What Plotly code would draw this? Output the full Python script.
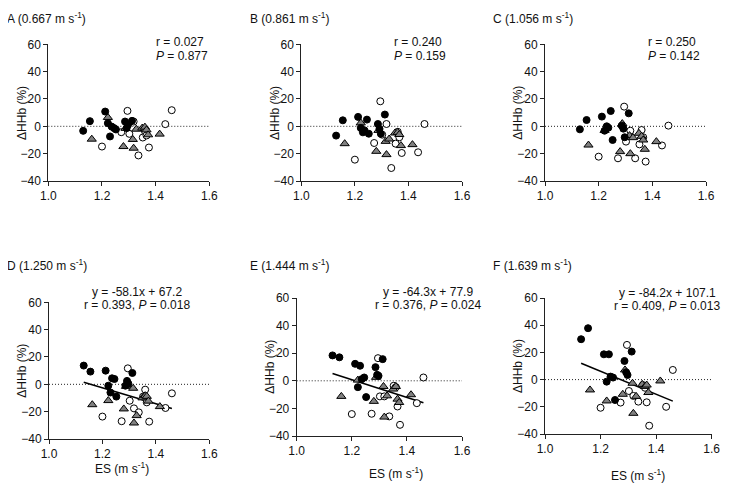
import plotly.graph_objects as go

# ---------------- data ----------------
panel_letters = ["A", "B", "C", "D", "E", "F"]
panel_speeds = ["0.667", "0.861", "1.056", "1.250", "1.444", "1.639"]

# ES (m s-1) of each subject, per group (same in every panel)
filled_x = [1.130, 1.155, 1.212, 1.222, 1.230, 1.236, 1.245, 1.252, 1.286, 1.292, 1.297, 1.312]
tri_x = [1.162, 1.222, 1.280, 1.288, 1.315, 1.318, 1.328, 1.350, 1.360, 1.366, 1.372, 1.415]
open_x = [1.200, 1.272, 1.295, 1.302, 1.318, 1.336, 1.352, 1.360, 1.366, 1.375, 1.436, 1.460]

# ΔHHb (%) per panel
filled_y = {
    "A": [-3.3, 3.8, 10.8, 2.3, -7.4, -0.2, -1.3, -2.3, 3.5, -1.3, 1.0, 4.0],
    "B": [-6.8, 4.4, 6.9, -1.2, -4.4, -3.0, 4.9, -5.4, 1.7, -1.9, -5.5, 8.6],
    "C": [-2.2, 4.6, 7.1, -3.2, 0.0, -1.0, 11.2, -10.0, 0.5, -1.7, -8.0, 9.5],
    "D": [13.7, 9.3, 10.0, -1.0, -6.0, 4.4, 3.9, -9.0, -1.0, 2.5, 0.5, 8.3],
    "E": [18.4, 17.0, 12.3, -4.6, 10.9, 1.2, 2.4, -11.8, 9.9, 4.3, 3.6, 15.7],
    "F": [29.7, 37.8, 18.6, -1.5, 18.6, 2.2, 1.5, -15.0, 13.7, 5.4, 3.4, 20.6],
}
tri_y = {
    "A": [-9.4, 6.5, -14.8, -1.5, -9.6, -16.0, -2.1, -1.3, -0.6, -2.6, -6.2, -5.7],
    "B": [-12.7, 2.5, -18.3, -3.0, -11.0, -20.7, -9.3, -4.9, -4.4, -6.0, -14.1, -13.4],
    "C": [-13.7, -3.0, -18.5, 2.0, -6.8, -20.0, -8.3, -5.1, -7.3, -10.0, -16.8, -11.2],
    "D": [-14.9, -11.9, -18.0, -1.5, -2.9, -28.3, -22.9, -9.9, -8.3, -8.8, -12.3, -16.3],
    "E": [-11.3, 0.5, -14.9, 2.5, -4.1, -26.3, -10.9, -6.0, -4.1, -13.3, -15.7, -10.1],
    "F": [-7.6, -15.7, -10.8, 7.1, -2.7, -24.8, -12.3, -3.5, -5.0, -4.0, -9.5, -1.0],
}
open_y = {
    "A": [-14.8, -4.3, 11.3, -5.5, 3.5, -21.3, -8.2, -3.5, -6.7, -15.5, 1.6, 11.8],
    "B": [-24.4, -12.2, 18.3, -6.1, 1.7, -30.5, -12.7, -4.0, -8.0, -19.5, -19.0, 1.7],
    "C": [-22.2, -23.4, 14.4, -11.2, -3.2, -23.4, -13.2, -2.7, -8.0, -25.8, -14.0, 0.5],
    "D": [-23.6, -27.0, 11.7, -12.0, -17.6, -20.5, -9.0, -3.9, -13.2, -27.3, -17.3, -6.6],
    "E": [-24.1, -23.9, 16.4, -11.3, -11.3, -25.8, -3.6, -4.6, -18.6, -31.9, -16.2, 2.4],
    "F": [-20.7, -16.9, 25.5, -8.4, -12.0, -16.2, -4.0, -6.0, -16.7, -33.9, -20.0, 7.1],
}

r_values = ["0.027", "0.240", "0.250", "0.393", "0.376", "0.409"]
p_values = ["0.877", "0.159", "0.142", "0.018", "0.024", "0.013"]
slopes = [None, None, None, -58.1, -64.3, -84.2]
intercepts = [None, None, None, 67.2, 77.9, 107.1]

x_ticks = [1.0, 1.2, 1.4, 1.6]
y_ticks = [-40, -20, 0, 20, 40, 60]

# ---------------- layout helpers ----------------
W, H = 729, 483
OFF = 8  # page body margin in the browser
FONT = "Liberation Sans, Arial, sans-serif"
FS = 12


def px(v):
    return (v - OFF) / W


def py(v):
    return 1 - (v - OFF) / H


# plot-area pixel boxes in the screenshot: (x_left, x_right, y_top, y_bottom)
boxes = [
    (48.3, 209.3, 44.3, 181.0),
    (301.3, 462.0, 44.3, 181.0),
    (545.0, 706.0, 44.3, 181.0),
    (49.0, 209.3, 302.3, 439.0),
    (296.7, 462.0, 298.0, 436.0),
    (545.0, 711.7, 298.0, 434.0),
]

fig = go.Figure()
annotations = []

for i, letter in enumerate(panel_letters):
    xl, xr, yt, yb = boxes[i]
    n = "" if i == 0 else str(i + 1)
    xa, ya = "x" + n, "y" + n
    fig.update_layout({
        "xaxis" + n: dict(
            domain=[px(xl), px(xr)], range=[1.0, 1.6], anchor=ya, automargin=False,
            tickvals=x_ticks, ticktext=[f"{v:.1f}" for v in x_ticks],
            showgrid=False, zeroline=False, showline=True, linecolor="#222",
            linewidth=1, ticks="outside", ticklen=4, tickcolor="#222",
            tickfont=dict(family=FONT, size=FS, color="#111"),
        ),
        "yaxis" + n: dict(
            domain=[py(yb), py(yt)], range=[-40, 60], anchor=xa, automargin=False,
            tickvals=y_ticks, showgrid=False, zeroline=False, showline=True,
            linecolor="#222", linewidth=1, ticks="outside", ticklen=4,
            tickcolor="#222", tickfont=dict(family=FONT, size=FS, color="#111"),
        ),
    })

    # dotted zero line
    fig.add_trace(go.Scatter(x=[1.0, 1.6], y=[0, 0], mode="lines",
                             line=dict(color="#222", width=1, dash="1px,2px"),
                             xaxis=xa, yaxis=ya, showlegend=False, hoverinfo="skip"))
    # regression line
    if slopes[i] is not None:
        all_x = filled_x + tri_x + open_x
        lx = [min(all_x), max(all_x)]
        ly = [slopes[i] * v + intercepts[i] for v in lx]
        fig.add_trace(go.Scatter(x=lx, y=ly, mode="lines",
                                 line=dict(color="#000", width=1.6),
                                 xaxis=xa, yaxis=ya, showlegend=False))

    fig.add_trace(go.Scatter(x=open_x, y=open_y[letter], mode="markers",
                             marker=dict(symbol="circle", size=7, color="white",
                                         line=dict(color="#000", width=1)),
                             xaxis=xa, yaxis=ya, showlegend=False))
    fig.add_trace(go.Scatter(x=tri_x, y=tri_y[letter], mode="markers",
                             marker=dict(symbol="triangle-up", size=8, color="#808080",
                                         line=dict(color="#000", width=1)),
                             xaxis=xa, yaxis=ya, showlegend=False))
    fig.add_trace(go.Scatter(x=filled_x, y=filled_y[letter], mode="markers",
                             marker=dict(symbol="circle", size=7, color="#000",
                                         line=dict(color="#000", width=1)),
                             xaxis=xa, yaxis=ya, showlegend=False))

    col = i % 3
    row = i // 3
    # panel title
    tx = [5, 248, 491][col]
    if row == 0:
        annotations.append(dict(
            text=f"{letter} ({panel_speeds[i]} m s<sup>-1</sup>)", x=px(tx), y=1.0,
            xref="paper", yref="paper", xanchor="left", yanchor="top",
            showarrow=False, font=dict(family=FONT, size=FS, color="#111")))
    else:
        annotations.append(dict(
            text=f"{letter} ({panel_speeds[i]} m s<sup>-1</sup>)", x=px(tx), y=py(265),
            xref="paper", yref="paper", xanchor="left", yanchor="middle",
            showarrow=False, font=dict(family=FONT, size=FS, color="#111")))

    # y-axis title
    annotations.append(dict(
        text="ΔHHb (%)", x=px(xl - 27), y=py((yt + yb) / 2),
        xref="paper", yref="paper", xanchor="center", yanchor="middle",
        textangle=-90, showarrow=False, font=dict(family=FONT, size=FS, color="#111")))

    # stats text
    if row == 0:
        sx = [154, 392, 646][col]
        annotations.append(dict(
            text=f"r = {r_values[i]}", x=px(sx), y=py(42), xref="paper", yref="paper",
            xanchor="left", yanchor="middle", showarrow=False,
            font=dict(family=FONT, size=FS, color="#111")))
        annotations.append(dict(
            text=f"<i>P</i> = {p_values[i]}", x=px(sx), y=py(56), xref="paper", yref="paper",
            xanchor="left", yanchor="middle", showarrow=False,
            font=dict(family=FONT, size=FS, color="#111")))
    else:
        cx = [137, 428, 667][col]
        y1 = [292, 292, 293][col]
        b = intercepts[i]
        annotations.append(dict(
            text=f"y = {slopes[i]}x + {b}", x=px(cx), y=py(y1), xref="paper", yref="paper",
            xanchor="center", yanchor="middle", showarrow=False,
            font=dict(family=FONT, size=FS, color="#111")))
        annotations.append(dict(
            text=f"r = {r_values[i]}, <i>P</i> = {p_values[i]}", x=px(cx), y=py(y1 + 13),
            xref="paper", yref="paper", xanchor="center", yanchor="middle", showarrow=False,
            font=dict(family=FONT, size=FS, color="#111")))
        # x-axis title
        ex = [122, 396, 638][col]
        ey = [468, 473, 475][col]
        annotations.append(dict(
            text="ES (m s<sup>-1</sup>)", x=px(ex), y=py(ey), xref="paper", yref="paper",
            xanchor="center", yanchor="middle", showarrow=False,
            font=dict(family=FONT, size=FS, color="#111")))

fig.update_layout(
    width=W, height=H, autosize=False,
    margin=dict(l=0, r=0, t=0, b=0),
    paper_bgcolor="white", plot_bgcolor="white",
    annotations=annotations,
    font=dict(family=FONT, size=FS, color="#111"),
)

fig.write_html("out.html")
